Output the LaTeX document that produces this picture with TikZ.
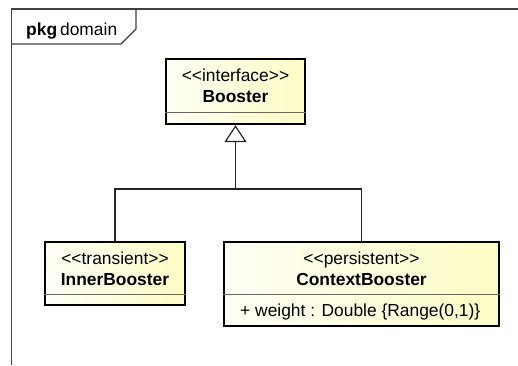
\documentclass[tikz,border=0pt]{standalone}
\usepackage{fontspec}
\newfontfamily\umlfont{Liberation Sans}
\usetikzlibrary{arrows.meta,shadows}
\definecolor{classlight}{HTML}{FFFFF6}
\definecolor{classdark}{HTML}{FCFCC4}
\tikzset{class box/.style={draw=black,line width=2.2pt,left color=classlight,right color=classdark,
    inner sep=0pt,general shadow={fill=black!35,shadow xshift=1.2pt,shadow yshift=-1.2pt}},
  uml text/.style={font=\umlfont\fontsize{17.4pt}{20pt}\selectfont,inner sep=0pt},
  class name/.style={uml text,font=\umlfont\bfseries\fontsize{17.4pt}{20pt}\selectfont,anchor=base},
  stereo/.style={uml text,anchor=base},
  divider/.style={draw=black!60,line width=1pt},
  frame/.style={draw=black!75,line width=1.1pt},
  link/.style={draw=black!85,line width=1.2pt},
}
\newcommand{\stereotype}[1]{<<#1>>}

\begin{document}
\begin{tikzpicture}[x=1pt,y=-1pt]
  \useasboundingbox (0,0) rectangle (518,365);

  % package frame with its tab
  \draw[frame] (518,9) -| (11.5,365);
  \draw[frame] (11.5,44) -- (121,44) -- (136,29) -- (136,9);
  \node[uml text,anchor=base west] (pkg) at (26,35) {\textbf{pkg}\kern3pt domain};

  % classes
  \node[class box,minimum width=139pt,minimum height=65pt] (booster) at (235.5,91.5) {};
  \node[class box,minimum width=140pt,minimum height=63pt] (inner) at (115,273.5) {};
  \node[class box,minimum width=275pt,minimum height=84pt] (context) at (361.5,284) {};

  \draw[divider] (booster.west |- 0,112) -- (booster.east |- 0,112);
  \draw[divider] (inner.west |- 0,294) -- (inner.east |- 0,294);
  \draw[divider] (context.west |- 0,294) -- (context.east |- 0,294);

  \node[stereo] (booster stereo) at ([yshift=-24pt]booster.north) {\stereotype{interface}};
  \node[class name] (booster name) at ([yshift=-45pt]booster.north) {Booster};
  \node[stereo] (inner stereo) at ([yshift=-24pt]inner.north) {\stereotype{transient}};
  \node[class name] (inner name) at ([yshift=-45pt]inner.north) {InnerBooster};
  \node[stereo] (context stereo) at ([yshift=-24pt]context.north) {\stereotype{persistent}};
  \node[class name] (context name) at ([yshift=-45pt]context.north) {ContextBooster};
  \node[uml text,anchor=base west] (weight) at (240,316) {+ weight : Double \{Range(0,1)\}};

  % generalization
  \coordinate (join) at (235.5,189);
  \draw[link] (inner.north) |- (join);
  \draw[link] (context.north) |- (join);
  \draw[link,-{Triangle[open,length=17pt,width=22pt,line width=1.2pt]}] (join) -- (booster.south);
\end{tikzpicture}
\end{document}
